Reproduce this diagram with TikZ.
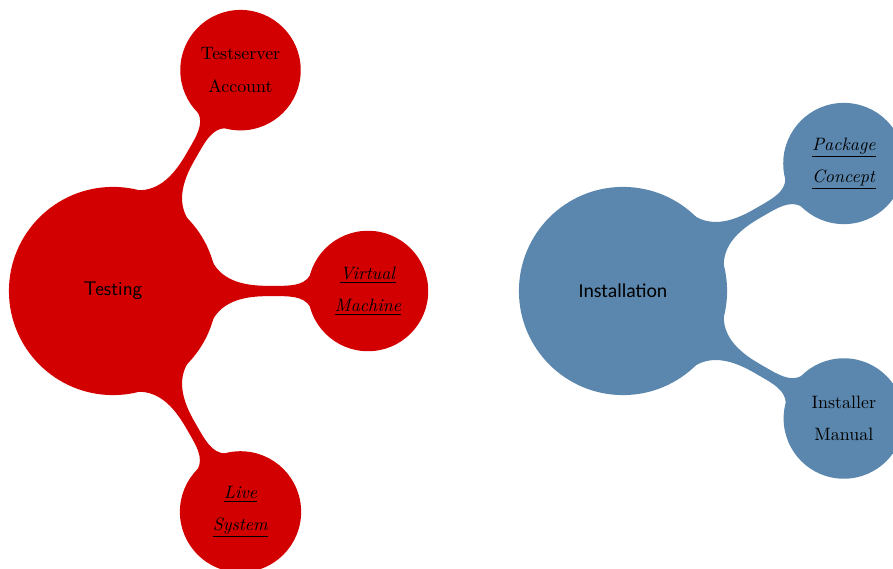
\documentclass[tikz,border=0pt]{standalone}
\usepackage{fontspec}
\newfontfamily\instfont{Carlito}
\usetikzlibrary{mindmap}
\definecolor{testred}{RGB}{210,0,0}
\definecolor{instblue}{RGB}{91,135,174}

\begin{document}
\begin{tikzpicture}[mindmap, text=black,
        every node/.style={concept},
        root concept/.append style={minimum size=4.04cm, text width=3.5cm,
            font=\sffamily\fontsize{11}{13}\selectfont},
        level 1 concept/.append style={level distance=5cm, minimum size=2.32cm,
            text width=2cm, font=\rmfamily}]
        % fix the page size
        \useasboundingbox (-2.216,-5.451) rectangle (15.294,5.706);

        % the testing part
        \path[concept color=testred]
            node[root concept] (testing) at (0,0) {Testing}
            child[grow=60] {node (account) {Testserver\\[6pt]Account}}
            child[grow=0] {node (vm) {\underline{\textit{Virtual}}\\[6pt]\underline{\textit{Machine}}}}
            child[grow=-60] {node (live) {\underline{\textit{Live}}\\[6pt]\underline{\textit{System}}}};

        % the installation part
        \path[concept color=instblue]
            node[root concept, font=\instfont\fontsize{11}{13}\selectfont] (install) at (10,0) {Installation}
            child[grow=30] {node (package) {\underline{\textit{Package}}\\[6pt]\underline{\textit{Concept}}}}
            child[grow=-30] {node (manual) {Installer\\[6pt]Manual}};
\end{tikzpicture}
\end{document}
